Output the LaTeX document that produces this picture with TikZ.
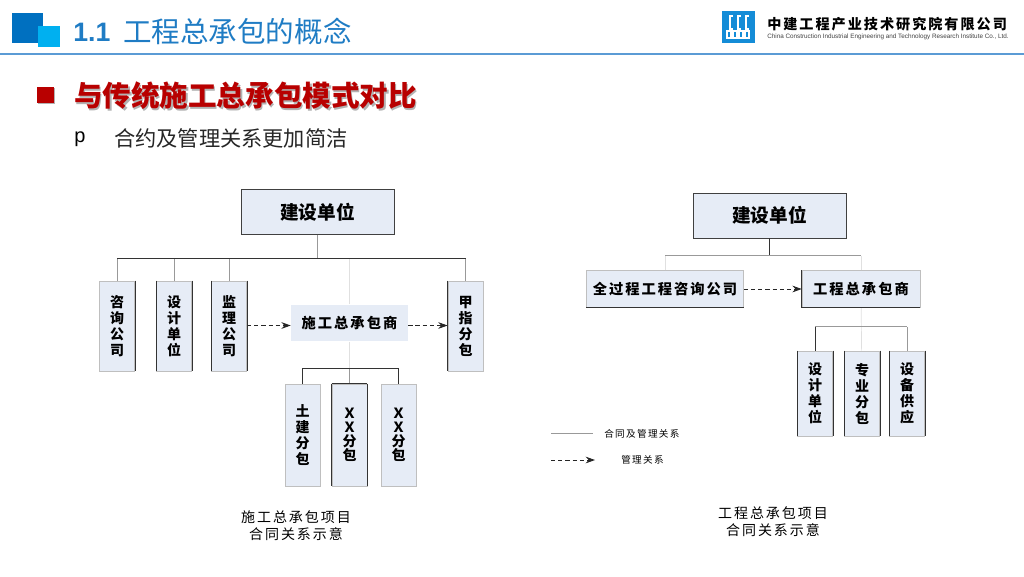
\documentclass[tikz,border=0pt]{standalone}
\usepackage{fontspec}
\setmainfont{Noto Sans CJK SC}
\newfontfamily\latinfont{Liberation Sans}
\newfontfamily\widefont[LetterSpace=14]{Noto Sans CJK SC}
\usetikzlibrary{arrows.meta,calc,positioning}
\definecolor{boxblue}{HTML}{E6ECF6}
\definecolor{headblue}{HTML}{1F7CC4}
\definecolor{ruleblue}{HTML}{5B9BD5}
\definecolor{headred}{HTML}{B80000}
\definecolor{squaredark}{HTML}{0070C0}
\definecolor{squarelight}{HTML}{00B0F0}
\definecolor{logoblue}{HTML}{148CD7}
\tikzset{
  unitbox/.style={draw=black!25,line width=0.4pt,fill=boxblue,inner sep=0pt,align=center,font=\bfseries\fontsize{10.5}{12}\selectfont},
  ownerbox/.style={unitbox,draw=black!75,minimum width=114.75pt,minimum height=33.5pt,font=\bfseries\fontsize{14}{16}\selectfont},
  widebox/.style={unitbox,minimum height=27.5pt,font=\widefont\bfseries\fontsize{10.7}{12}\selectfont},
  tallbox/.style={unitbox,minimum width=26.5pt},
  link/.style={draw=black!40,line width=0.5pt},
  darklink/.style={draw=black!80,line width=0.5pt},
  palelink/.style={draw=black!12,line width=0.5pt},
  managelink/.style={draw=black!85,line width=0.7pt,dash pattern=on 3.2pt off 2.2pt,-{Stealth[length=7pt,width=5pt]}},
  edge/.style={draw=black!80,line width=0.5pt},
  caption/.style={font=\widefont\fontsize{10.5}{12.75}\selectfont,align=center,inner sep=0pt},
  legend/.style={font=\widefont\fontsize{7.2}{9}\selectfont,inner sep=0pt},
}
\begin{document}
\begin{tikzpicture}[x=0.75pt,y=-0.75pt]
\useasboundingbox (0,0) rectangle (1024,576);

% Header
\fill[squaredark] (12,13) rectangle (43,43);
\fill[squarelight] (38,26) rectangle (60,47);
\fill[ruleblue] (0,52.5) rectangle (1024,54.5);
\node[headblue,anchor=west,inner sep=0pt,font=\latinfont\bfseries\fontsize{20}{24}\selectfont] (num) at (73,32.5) {1.1};
\node[headblue,anchor=west,inner sep=0pt,font=\fontsize{21.4}{24}\selectfont] (title) at (123,31.5) {工程总承包的概念};

% Logo
\fill[logoblue] (722,11) rectangle (755,43);
\foreach \x in {730,738,746} {
  \draw[white,line width=0.9pt] (\x+3,16) -- (\x,16) -- (\x,29) -- (\x+3,29);
}
\foreach \x in {727,733,739,745} {
  \draw[white,line width=0.9pt] (\x,31) rectangle (\x+4,38);
}
\node[anchor=west,inner sep=0pt,font=\widefont\bfseries\fontsize{10.6}{14}\selectfont] (company) at (767,24) {中建工程产业技术研究院有限公司};
\node[anchor=west,inner sep=0pt,font=\latinfont\fontsize{4.75}{6}\selectfont,text=black!75] (companyen) at (767,37) {China Construction Industrial Engineering and Technology Research Institute Co., Ltd.};

% Heading
\fill[black!30] (38,88) rectangle (55,104);
\fill[headred] (37,87) rectangle (54,103);
\node[black!30,anchor=west,inner sep=0pt,font=\bfseries\fontsize{21.4}{24}\selectfont] at (75.5,97.5) {与传统施工总承包模式对比};
\node[headred,anchor=west,inner sep=0pt,font=\bfseries\fontsize{21.4}{24}\selectfont] (heading) at (74,96) {与传统施工总承包模式对比};
\node[anchor=west,inner sep=0pt,font=\latinfont\fontsize{15}{18}\selectfont] (bullet) at (74,139) {p};
\node[anchor=west,inner sep=0pt,font=\fontsize{15.9}{18}\selectfont,text=black!85] (point) at (114,138) {合约及管理关系更加简洁};

% Left chart
\node[ownerbox] (ownerA) at (317.5,212) {建设单位};
\node[tallbox,minimum height=67.5pt] (consult) at (117,326) {咨\\询\\公\\司};
\node[tallbox,minimum height=67.5pt] (design) at (174,326) {设\\计\\单\\位};
\node[tallbox,minimum height=67.5pt] (super) at (229,326) {监\\理\\公\\司};
\node[tallbox,minimum height=67.5pt] (owned) at (465.5,326) {甲\\指\\分\\包};
\node[widebox,draw=none,minimum width=87.75pt] (mainA) at (349.5,323) {施工总承包商};
\node[tallbox,minimum height=76.5pt] (civil) at (302.5,435) {土\\建\\分\\包};
\node[tallbox,minimum height=76.5pt] (subA) at (349.5,435) {Ｘ\\[-1.5pt]Ｘ\\[-1.5pt]分\\[-1.5pt]包};
\node[tallbox,minimum height=76.5pt] (subB) at (398.5,435) {Ｘ\\[-1.5pt]Ｘ\\[-1.5pt]分\\[-1.5pt]包};
\coordinate (busA) at (117,258.5);
\coordinate (busB) at (303,368.5);
\coordinate (manageA) at (0,325.5);

\draw[link] (ownerA) -- (ownerA |- busA);
\draw[darklink] (consult.north |- busA) -- (busA -| owned);
\foreach \n in {consult,design,super,owned} \draw[link] (\n.north) -- (\n.north |- busA);
\draw[palelink] (mainA) -- (mainA |- busA);
\draw[palelink] (mainA) -- (mainA |- busB);
\draw[darklink] (civil.north) |- (busB -| subB);
\draw[darklink] (subB.north) -- (subB.north |- busB);
\draw[link] (subA.north) -- (subA.north |- busB);
\draw[managelink] (super.east |- manageA) -- (mainA.west |- manageA);
\draw[managelink] (mainA.east |- manageA) -- (owned.west |- manageA);

% Dark box edges
\foreach \n in {design,super,owned,subA} \draw[edge] (\n.north west) -- (\n.south west);
\foreach \n in {consult,design,super,subA} \draw[edge] (\n.north east) -- (\n.south east);
\draw[edge] (subA.north west) -- (subA.north east);

\node[caption] (capA) at (296,525.5) {施工总承包项目\\合同关系示意};

% Right chart
\node[ownerbox] (ownerB) at (769.5,215.5) {建设单位};
\node[widebox,minimum width=117.75pt] (whole) at (665,289) {全过程工程咨询公司};
\node[widebox,minimum width=88.5pt] (mainB) at (861,289) {工程总承包商};
\node[tallbox,minimum height=63.75pt] (designB) at (815,393.5) {设\\计\\单\\位};
\node[tallbox,minimum height=63.75pt] (trade) at (862,393.5) {专\\业\\分\\包};
\node[tallbox,minimum height=63.75pt] (supply) at (907,393.5) {设\\备\\供\\应};
\coordinate (busC) at (665,255.5);
\coordinate (busD) at (815,326.5);

\draw[darklink] (ownerB) -- (ownerB |- busC);
\draw[link] (busC) -- (busC -| mainB);
\draw[palelink] (whole) -- (whole |- busC);
\draw[palelink] (mainB) -- (mainB |- busC);
\draw[palelink] (mainB) -- (trade);
\draw[link] (designB.north |- busD) -- (busD -| supply);
\draw[darklink] (designB.north) -- (designB.north |- busD);
\draw[link] (supply.north) -- (supply.north |- busD);
\draw[managelink] (whole) -- (mainB);

\foreach \n in {designB,trade,supply} {
  \draw[edge] (\n.north west) -- (\n.south west);
  \draw[edge] (\n.north east) -- (\n.south east);
}
\draw[edge] (whole.south west) -- (whole.south east);
\draw[edge] (mainB.north west) -- (mainB.south west);
\draw[edge] (mainB.south west) -- (mainB.south east);

\node[caption] (capB) at (773,522) {工程总承包项目\\合同关系示意};

% Legend
\coordinate (keyA) at (551,433.5);
\coordinate (keyB) at (593,433.5);
\coordinate (keyC) at (551,460);
\coordinate (keyD) at (595,460);
\draw[link] (keyA) -- (keyB);
\draw[managelink] (keyC) -- (keyD);
\node[legend,anchor=west] (keyTextA) at (604,433.5) {合同及管理关系};
\node[legend,anchor=west] (keyTextB) at (621,460) {管理关系};
\end{tikzpicture}
\end{document}
